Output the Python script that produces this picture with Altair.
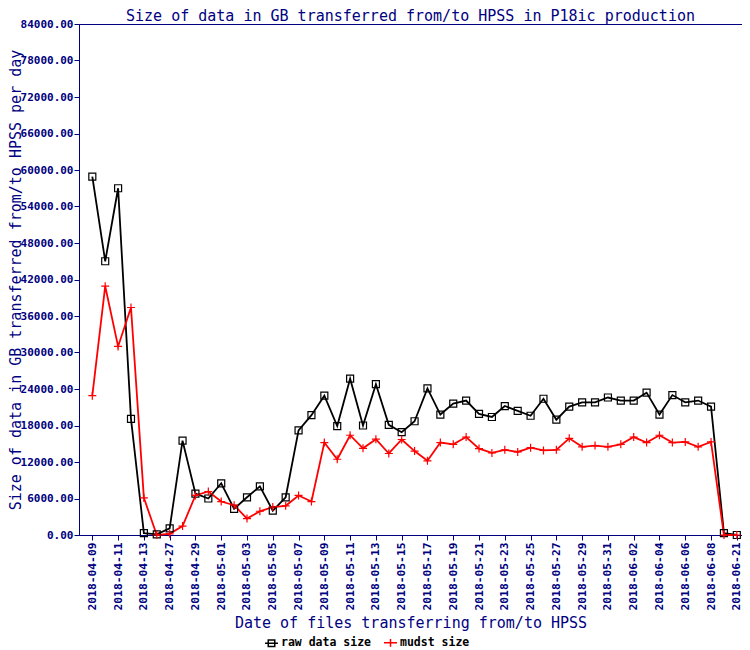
import altair as alt
import pandas as pd

# ---------------- data ----------------
dates = [
    "2018-04-09", "2018-04-10", "2018-04-11", "2018-04-12", "2018-04-13", "2018-04-26",
    "2018-04-27", "2018-04-28", "2018-04-29", "2018-04-30",
    "2018-05-01", "2018-05-02", "2018-05-03", "2018-05-04", "2018-05-05", "2018-05-06",
    "2018-05-07", "2018-05-08", "2018-05-09", "2018-05-10", "2018-05-11", "2018-05-12",
    "2018-05-13", "2018-05-14", "2018-05-15", "2018-05-16", "2018-05-17", "2018-05-18",
    "2018-05-19", "2018-05-20", "2018-05-21", "2018-05-22", "2018-05-23", "2018-05-24",
    "2018-05-25", "2018-05-26", "2018-05-27", "2018-05-28", "2018-05-29", "2018-05-30",
    "2018-05-31", "2018-06-01", "2018-06-02", "2018-06-03", "2018-06-04", "2018-06-05",
    "2018-06-06", "2018-06-07", "2018-06-08", "2018-06-09", "2018-06-21",
]

raw_gb = [
    58900, 45000, 57000, 19100, 300, 100, 1100, 15500, 6800, 6000,
    8500, 4300, 6200, 8000, 4000, 6200, 17200, 19700, 22900, 17900,
    25700, 18000, 24800, 18100, 16900, 18700, 24100, 19800, 21600, 22100,
    19900, 19400, 21200, 20400, 19600, 22400, 18950, 21100, 21800, 21800,
    22600, 22100, 22100, 23400, 19800, 23000, 21800, 22100, 21100, 300,
    0,
]

mudst_gb = [
    22900, 40900, 31000, 37400, 6100, 0, 200, 1460, 6500, 7150,
    5500, 4900, 2700, 3900, 4600, 4800, 6500, 5500, 15200, 12450,
    16400, 14250, 15750, 13400, 15700, 13800, 12200, 15200, 14900, 16100,
    14200, 13500, 14000, 13650, 14350, 13900, 14000, 15900, 14500, 14700,
    14500, 14900, 16100, 15200, 16400, 15200, 15300, 14500, 15300, 0,
    0,
]

x_tick_labels = [
    "2018-04-09", "2018-04-11", "2018-04-13", "2018-04-27", "2018-04-29",
    "2018-05-01", "2018-05-03", "2018-05-05", "2018-05-07", "2018-05-09",
    "2018-05-11", "2018-05-13", "2018-05-15", "2018-05-17", "2018-05-19",
    "2018-05-21", "2018-05-23", "2018-05-25", "2018-05-27", "2018-05-29",
    "2018-05-31", "2018-06-02", "2018-06-04", "2018-06-06", "2018-06-08",
    "2018-06-21",
]

y_ticks = [0, 6000, 12000, 18000, 24000, 30000, 36000, 42000, 48000,
           54000, 60000, 66000, 72000, 78000, 84000]

series_names = ["raw data size", "mudst size"]
series_colors = ["#000000", "#ff0000"]

# ---------------- styling ----------------
NAVY = "#000080"
FONT = "DejaVu Sans Mono"
W, H = 663, 511
PAD_L, PAD_T, PAD_B = 71, 16, 113

legend_symbols = [
    "M-1,0H1M-0.5,-0.5H0.5V0.5H-0.5Z",
    "M-1,0H1M0,-0.6V0.6",
]

records = []
for i, d in enumerate(dates):
    records.append({"date": d, "series": series_names[0], "gb": raw_gb[i]})
    records.append({"date": d, "series": series_names[1], "gb": mudst_gb[i]})
df = pd.DataFrame(records)

x_enc = alt.X(
    "date:O",
    sort=dates,
    scale=alt.Scale(type="point", domain=dates, padding=0.7176, align=0.72),
    axis=alt.Axis(
        values=x_tick_labels,
        labelAngle=-90,
        labelFontSize=11.3,
        labelPadding=2,
        tickSize=5,
        title="Date of files transferring from/to HPSS",
        titleFontSize=15,
        titleY=92,
        titleBaseline="alphabetic",
    ),
)
y_enc = alt.Y(
    "gb:Q",
    scale=alt.Scale(domain=[0, 84000], nice=False, zero=True),
    axis=alt.Axis(
        values=y_ticks,
        format=".2f",
        labelFontSize=11,
        labelPadding=1,
        labelFlush=False,
        tickSize=5,
        title="Size of data in GB transferred  from/to HPSS per day",
        titleFontSize=15,
        titleAngle=-90,
        titleX=-59,
        titleY=H / 2,
        titleBaseline="alphabetic",
        titleAlign="center",
    ),
)

base = alt.Chart(df).encode(x=x_enc, y=y_enc)
raw_f = alt.datum.series == series_names[0]
mud_f = alt.datum.series == series_names[1]

line_raw = base.transform_filter(raw_f).mark_line(color=series_colors[0], strokeWidth=1.8)
line_mud = base.transform_filter(mud_f).mark_line(color=series_colors[1], strokeWidth=1.8)
pts_raw = base.transform_filter(raw_f).mark_point(
    shape="square", size=49, color=series_colors[0], filled=False, strokeWidth=1.2, opacity=1
)
pts_mud = base.transform_filter(mud_f).mark_point(
    shape="M-1,0H1M0,-1V1", size=64, color=series_colors[1], filled=False, strokeWidth=1.2, opacity=1
)

legend_kw = dict(
    orient="none",
    legendX=185,
    legendY=611,
    direction="horizontal",
    title=None,
    labelFont=FONT,
    labelFontSize=11.5,
    labelFontWeight="bold",
    labelColor="black",
    symbolSize=169,
    symbolStrokeWidth=1.5,
    labelOffset=2,
    columnPadding=9,
    padding=0,
)

legend_layer = base.transform_filter(alt.datum.gb < 0).mark_point(
    filled=False, opacity=1, strokeWidth=1.5
).encode(
    color=alt.Color("series:N", scale=alt.Scale(domain=series_names, range=series_colors),
                    legend=alt.Legend(**legend_kw)),
    shape=alt.Shape("series:N", scale=alt.Scale(domain=series_names, range=legend_symbols),
                    legend=alt.Legend(**legend_kw)),
)

chart = (
    alt.layer(line_raw, line_mud, pts_raw, pts_mud, legend_layer)
    .properties(
        width=W,
        height=H,
        title=alt.TitleParams(
            text="Size of data in GB transferred  from/to HPSS in P18ic production",
            font=FONT,
            fontSize=15,
            fontWeight="normal",
            color=NAVY,
            anchor="middle",
            offset=0,
            dy=6,
        ),
        autosize=alt.AutoSizeParams(type="none"),
        padding={"left": PAD_L, "top": PAD_T, "right": 0, "bottom": PAD_B},
    )
    .configure_view(stroke=NAVY, strokeWidth=1)
    .configure_axis(
        grid=False,
        domainColor=NAVY,
        tickColor=NAVY,
        labelColor=NAVY,
        titleColor=NAVY,
        labelFont=FONT,
        titleFont=FONT,
        labelFontWeight="bold",
        titleFontWeight="normal",
        domainWidth=1,
        tickWidth=1,
    )
)

chart.save("out.html", embed_options={"renderer": "svg", "actions": False})
